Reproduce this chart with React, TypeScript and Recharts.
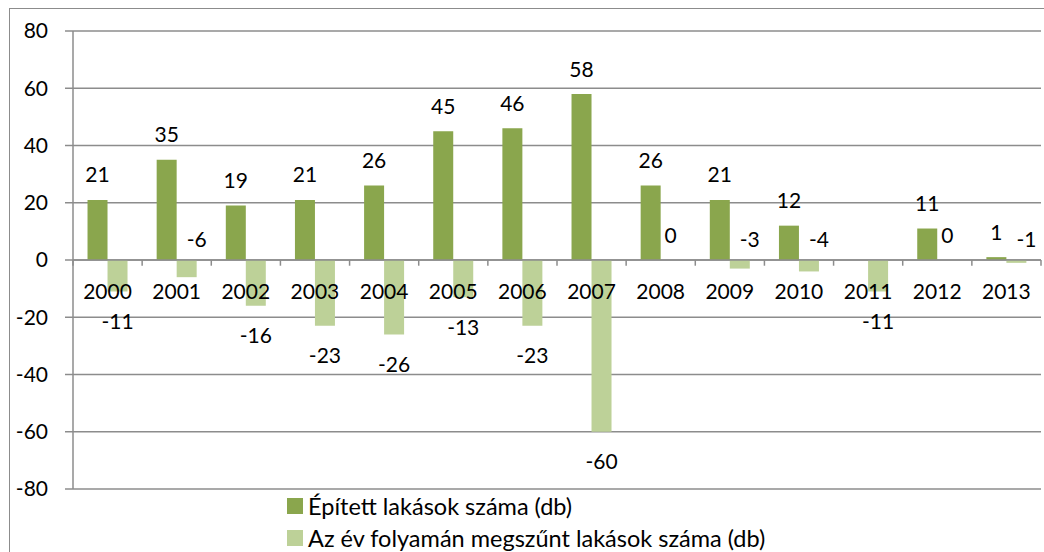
import { BarChart, Bar, XAxis, YAxis, CartesianGrid, Legend, LabelList, ReferenceLine } from "recharts";

const YEARS = ["2000", "2001", "2002", "2003", "2004", "2005", "2006", "2007", "2008", "2009", "2010", "2011", "2012", "2013"];
const BUILT = [21, 35, 19, 21, 26, 45, 46, 58, 26, 21, 12, null, 11, 1];
const LOST = [-11, -6, -16, -23, -26, -13, -23, -60, 0, -3, -4, -11, 0, -1];
const Y_TICKS = [-80, -60, -40, -20, 0, 20, 40, 60, 80];
const BUILT_NAME = "Épített lakások száma (db)";
const LOST_NAME = "Az év folyamán megszűnt lakások száma (db)";
const SERIES_ORDER = ["built", "lost"];

const data = YEARS.map((year, i) => ({ year, built: BUILT[i], lost: LOST[i] }));

const FONT = "Lato, 'Open Sans', sans-serif";
const GRID = "#8c8c8c";
const FS = 21;

function box(props: any) {
  const vb = props.viewBox ?? props;
  const x = Number(vb.x);
  const y = Number(vb.y);
  const w = Number(vb.width);
  const h = Number(vb.height);
  return { x, w, top: Math.min(y, y + h), bottom: Math.max(y, y + h) };
}

// Excel-like data labels: above for positives/zero, small negatives sit above the axis
function valueLabel(props: any) {
  const { value } = props;
  if (value == null) return null;
  const { x, w, top, bottom } = box(props);
  const cx = x + w / 2;
  let ty = top - 25;
  let anchor: "middle" | "start" = "middle";
  if (value < 0 && value > -10) {
    ty = top - 21;
    anchor = "start";
  } else if (value < 0) {
    ty = bottom + 30;
  }
  return (
    <text x={cx} y={ty} dy="0.36em" textAnchor={anchor} fontSize={FS} fill="#000" fontFamily={FONT}>
      {value}
    </text>
  );
}

// category names drawn just under the zero line (lost bars start at the zero line)
function yearLabel(props: any) {
  const { x, top } = box(props);
  return (
    <text x={x} y={top + 31} dy="0.36em" textAnchor="middle" fontSize={FS} fill="#000" fontFamily={FONT}>
      {props.value}
    </text>
  );
}

function renderLegend(props: any) {
  const items = [...(props.payload ?? [])].sort(
    (a: any, b: any) => SERIES_ORDER.indexOf(a.dataKey) - SERIES_ORDER.indexOf(b.dataKey)
  );
  return (
    <div style={{ fontFamily: FONT, fontSize: 23.5, color: "#000" }}>
      {items.map((it: any) => (
        <div key={it.value} style={{ display: "flex", alignItems: "center", height: 32, whiteSpace: "nowrap" }}>
          <span style={{ width: 16, height: 16, background: it.color, marginRight: 5, display: "inline-block", flex: "none" }} />
          {it.value}
        </div>
      ))}
    </div>
  );
}

export default function App() {
  return (
    <div style={{ position: "absolute", left: 0, top: 0, width: 1044, height: 552, overflow: "hidden", background: "#fff", fontFamily: FONT }}>
      <div style={{ position: "absolute", left: 9, top: 8, width: 2000, height: 2000, borderLeft: `1.5px solid ${GRID}`, borderTop: `1.5px solid ${GRID}` }} />
      <div style={{ position: "absolute", left: 0, top: 0 }}>
        <BarChart
          width={1044}
          height={552}
          data={data}
          barGap={0}
          barCategoryGap="21%"
          margin={{ top: 31, right: 3, left: 9, bottom: 63 }}
        >
          <CartesianGrid vertical={false} stroke={GRID} strokeWidth={1.5} />
          <XAxis dataKey="year" hide />
          <YAxis
            domain={[-80, 80]}
            ticks={Y_TICKS}
            interval={0}
            width={64}
            tickSize={8}
            tickMargin={17}
            stroke={GRID}
            strokeWidth={1.5}
            tick={{ fill: "#000", fontSize: FS, fontFamily: FONT }}
          />
          <ReferenceLine y={0} stroke={GRID} strokeWidth={1.5} />
          {YEARS.map((y) => (
            <ReferenceLine key={y} segment={[{ x: y, y: 0 }, { x: y, y: -2 }]} position="start" stroke={GRID} strokeWidth={1.5} />
          ))}
          <ReferenceLine segment={[{ x: YEARS[YEARS.length - 1], y: 0 }, { x: YEARS[YEARS.length - 1], y: -2 }]} position="end" stroke={GRID} strokeWidth={1.5} />
          <Legend
            layout="horizontal"
            verticalAlign="middle"
            align="center"
            content={renderLegend}
            wrapperStyle={{ left: 287, top: 490, width: 700 }}
          />
          <Bar dataKey="built" name={BUILT_NAME} fill="#8aa64d" minPointSize={0.01} isAnimationActive={false}>
            <LabelList dataKey="built" content={valueLabel} />
          </Bar>
          <Bar dataKey="lost" name={LOST_NAME} fill="#bdd198" minPointSize={0.01} isAnimationActive={false}>
            <LabelList dataKey="lost" content={valueLabel} />
            <LabelList dataKey="year" content={yearLabel} />
          </Bar>
        </BarChart>
      </div>
    </div>
  );
}
